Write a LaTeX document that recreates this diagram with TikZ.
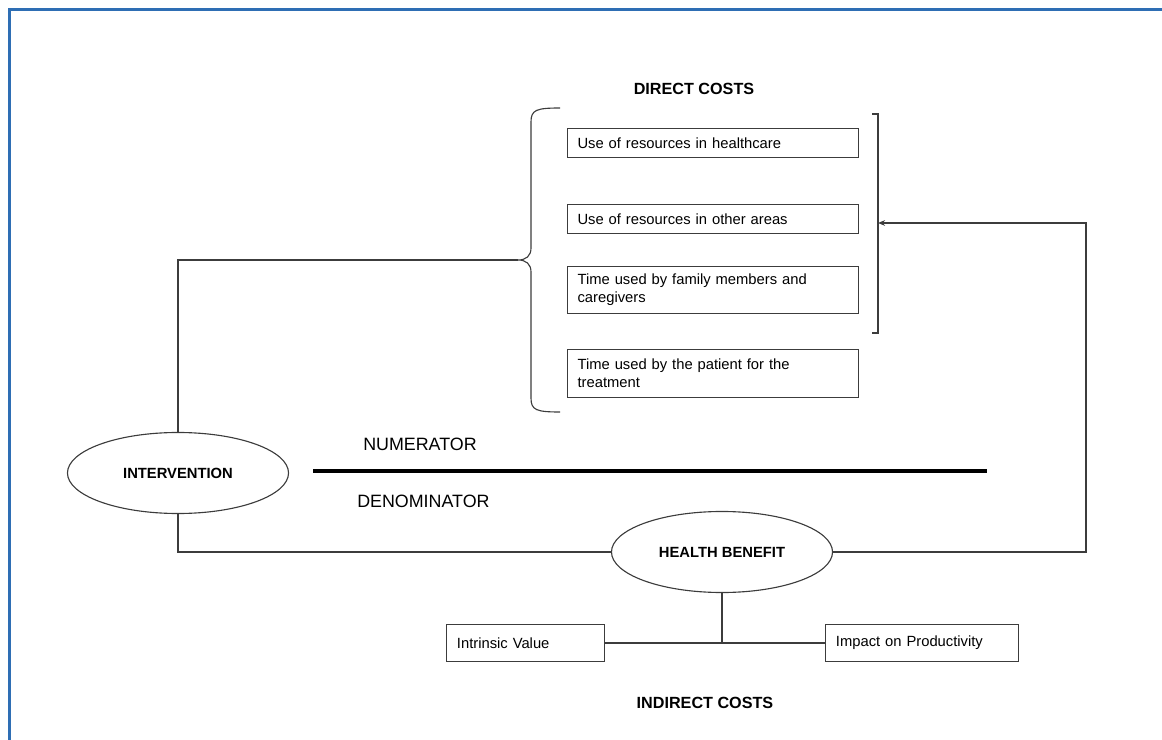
\documentclass[tikz,border=0pt]{standalone}
\usepackage{fontspec}
\setmainfont{Liberation Sans}
\usetikzlibrary{shapes.geometric,arrows.meta}

\definecolor{frameblue}{RGB}{46,110,180}
\definecolor{linegray}{RGB}{60,60,60}

\begin{document}
\begin{tikzpicture}[x=0.025cm, y=-0.025cm, align=left, line width=0.8pt, draw=linegray,
		costbox/.style={draw=linegray, anchor=north west, inner xsep=0.25cm, inner ysep=0pt, text width=6.775cm, font=\fontsize{10.5}{12.8}\selectfont},
		smallbox/.style={draw=linegray, anchor=west, inner xsep=0.26cm, inner ysep=0pt, minimum height=0.925cm, font=\fontsize{10.5}{12.8}\selectfont},
		oval/.style={ellipse, draw=linegray, inner sep=0pt, minimum width=5.525cm, minimum height=2.025cm, align=center, font=\bfseries\fontsize{10.5}{12}\selectfont},
		heading/.style={font=\bfseries\fontsize{11.5}{14}\selectfont},
		fraction/.style={font=\fontsize{12.7}{15}\selectfont, anchor=west}]
	
	\useasboundingbox (0,0) rectangle (1162,740);
	\draw[frameblue, line width=2.1pt] (9.5,740) -- (9.5,9.5) -- (1162,9.5);
	
	\node[heading] (direct) at (694,89) {DIRECT COSTS};
	
	\node[costbox, minimum height=0.725cm] (care) at (567,128) {Use of resources in healthcare};
	\node[costbox, minimum height=0.725cm] (other) at (567,204) {Use of resources in other areas};
	\node[costbox, minimum height=1.175cm] (family) at (567,266) {Time used by family members and\\caregivers};
	\node[costbox, minimum height=1.2cm] (patient) at (567,349) {Time used by the patient for the\\treatment};
	
	% curly brace and bracket
	\coordinate (bracetip) at (518,260);
	\draw (560,108) .. controls (536,108) and (531,110) .. (531,122) -- (531,248)
		.. controls (531,256) and (526,260) .. (bracetip)
		.. controls (526,260) and (531,264) .. (531,272) -- (531,398)
		.. controls (531,410) and (536,412) .. (560,412);
	\draw (872,114) -- (878,114) -- (878,333) -- (872,333);
	\coordinate (brackettip) at (878,223);
	\coordinate (turn) at (1086,223);
	
	\node[oval] (interv) at (178,473) {INTERVENTION};
	\node[oval] (health) at (722,552) {HEALTH BENEFIT};
	
	\node[fraction] (num) at (358,444) {NUMERATOR};
	\node[fraction] (den) at (352,501) {DENOMINATOR};
	\coordinate (fracl) at (313,471);
	\coordinate (fracr) at (987,471);
	\draw[black, line width=2.5pt] (fracl) -- (fracr);
	
	\node[smallbox, text width=3.435cm] (intrinsic) at (446,643) {Intrinsic Value};
	\node[smallbox, text width=4.305cm] (impact) at (825,643) {Impact on Productivity};
	\coordinate (junction) at (722,643);
	
	\node[heading] (indirect) at (705,703) {INDIRECT COSTS};
	
	\draw (interv.north) |- (bracetip);
	\draw (interv.south) |- (health.west);
	\draw[-{Stealth[length=5pt, width=4pt]}] (health.east) -| (turn) -- (brackettip);
	\draw (health.south) -- (junction);
	\draw (intrinsic.east) -- (junction) -- (impact.west);
\end{tikzpicture}
\end{document}
